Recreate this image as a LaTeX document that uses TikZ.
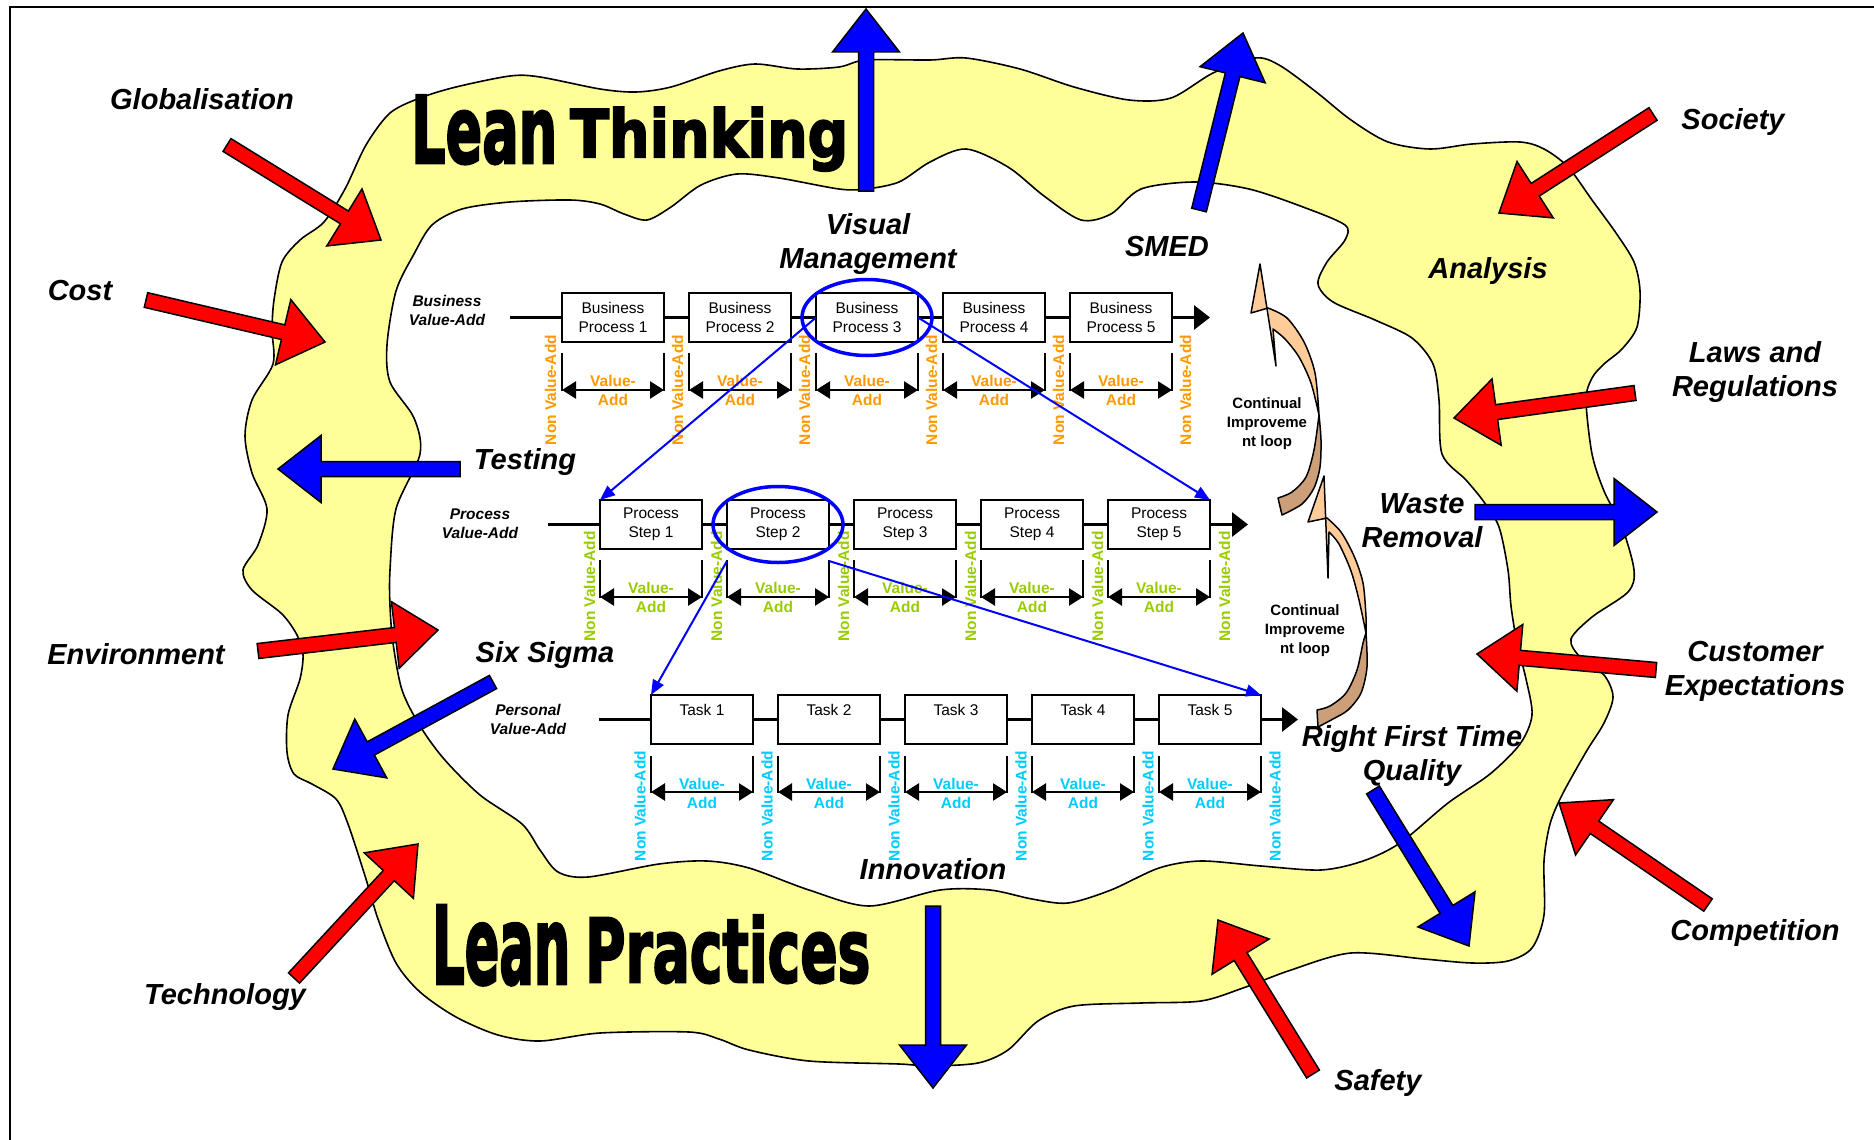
\documentclass[tikz,border=0pt]{standalone}
\usepackage{fontspec}
\usepackage{graphicx}
\setmainfont{Liberation Sans}
\newfontfamily\wordart{DejaVu Sans}[UprightFont={* Bold}, FakeBold=3]
\usetikzlibrary{calc,arrows.meta,shapes.geometric}

\definecolor{blobyellow}{HTML}{FFFF99}
\definecolor{vaorange}{HTML}{FF9900}
\definecolor{vagreen}{HTML}{99CC00}
\definecolor{vacyan}{HTML}{00CCFF}
\definecolor{cipeach}{HTML}{FFCC99}
\definecolor{citan}{HTML}{CC9F78}

% block arrow: style, tail centre, tip
\newcommand\blockarrow[3]{%
  \coordinate (ba-s) at #2;
  \coordinate (ba-e) at #3;
  \coordinate (ba-n) at ($(ba-e)!43pt!(ba-s)$);
  \draw[#1] ($(ba-s)!7.5pt!90:(ba-e)$) -- ($(ba-n)!7.5pt!-90:(ba-s)$)
    -- ($(ba-n)!33.5pt!-90:(ba-s)$) -- (ba-e) -- ($(ba-n)!33.5pt!90:(ba-s)$)
    -- ($(ba-n)!7.5pt!90:(ba-s)$) -- ($(ba-s)!7.5pt!-90:(ba-e)$) -- cycle;}

\tikzset{
  lbl/.style={font=\fontsize{29}{34}\selectfont\bfseries\itshape, align=center, inner sep=0},
  rowlbl/.style={font=\fontsize{15.5}{19}\selectfont\bfseries\itshape, align=center, inner sep=0},
  stepbox/.style={draw, line width=2pt, fill=white, minimum width=102pt, minimum height=49pt,
    inner sep=0, outer sep=0, align=center, font=\fontsize{15.5}{19}\selectfont},
  rowline/.style={line width=3pt, -{Triangle[length=16pt,width=24pt]}},
  brk/.style={line width=2pt},
  vaarrow/.style={line width=2.5pt, {Triangle[length=14pt,width=17pt]}-{Triangle[length=14pt,width=17pt]}},
  vatext/.style={font=\fontsize{15.5}{19}\selectfont\bfseries, align=center, inner sep=0},
  nvatext/.style={font=\fontsize{15.5}{18}\selectfont\bfseries, rotate=90, inner sep=0},
  conn/.style={draw=blue, line width=2pt, -{Triangle[length=15pt,width=12pt]}},
  ring/.style={ellipse, draw=blue, line width=3.5pt, inner sep=0, minimum width=130pt, minimum height=76pt},
  redarrow/.style={fill=red, draw=black, line width=1.5pt},
  bluearrow/.style={fill=blue, draw=black, line width=1.5pt},
  blob/.style={fill=blobyellow, draw=black, line width=1.6pt, even odd rule},
  cilight/.style={fill=cipeach, draw=black, line width=1.5pt, line join=round},
  cidark/.style={fill=citan, draw=black, line width=1.5pt, line join=round},
  citext/.style={font=\fontsize{15}{19}\selectfont\bfseries, align=center, inner sep=0},
  wa/.style={anchor=north west, inner sep=0},
}

\begin{document}
\begin{tikzpicture}[x=1pt,y=-1pt]
\useasboundingbox (0,0) rectangle (1874,1140);
\fill[white] (0,0) rectangle (1874,1140);

% frame
\draw[line width=1.5pt] (10,1140) -- (10,7) -- (1874,7);

% the yellow ring
\path[blob] plot[smooth cycle] coordinates {
 (420,98) (456,87) (510,76) (540,77) (600,89) (636,92) (671,87) (719,71) (755,64)
 (797,69) (839,67) (866,60) (930,60) (966,58) (1020,69) (1074,87) (1129,100)
 (1171,98) (1213,73) (1255,58) (1279,65) (1315,91) (1351,120) (1388,142) (1430,149)
 (1472,144) (1520,142) (1544,149) (1568,167) (1592,200) (1616,233) (1634,262)
 (1640,291) (1637,327) (1622,349) (1604,364) (1592,378) (1586,400) (1592,454)
 (1604,491) (1622,527) (1634,570) (1628,592) (1592,617) (1571,639) (1580,657)
 (1604,675) (1613,697) (1604,723) (1586,752) (1562,795) (1550,824) (1544,861)
 (1544,915) (1532,948) (1508,961) (1472,963) (1424,959) (1351,953) (1291,970)
 (1243,988) (1201,1001) (1141,1003) (1074,1006) (1038,1021) (1008,1050) (978,1063)
 (930,1066) (899,1064) (809,1061) (749,1050) (719,1039) (689,1032) (600,1033)
 (540,1041) (498,1035) (456,1017) (420,992) (396,963) (378,919) (366,879) (348,824)
 (336,799) (312,784) (294,774) (287,752) (288,715) (300,679) (303,654) (297,635)
 (282,614) (252,590) (243,570) (258,545) (267,509) (252,473) (245,436) (252,400)
 (273,364) (272,330) (274,300) (282,262) (300,240) (324,222) (345,189) (366,145)
 (390,113)}
 plot[smooth cycle] coordinates {
 (462,209) (510,202) (570,200) (600,204) (624,214) (647,220) (671,207) (701,185)
 (737,174) (779,178) (839,189) (866,189) (899,182) (930,162) (966,149) (1008,167)
 (1044,196) (1081,220) (1111,214) (1141,189) (1195,182) (1249,189) (1303,207)
 (1345,225) (1345,240) (1327,262) (1318,284) (1333,302) (1375,320) (1412,338)
 (1433,364) (1439,400) (1442,454) (1466,480) (1484,502) (1499,527) (1508,570)
 (1511,606) (1517,643) (1526,679) (1532,715) (1520,744) (1490,774) (1448,803)
 (1400,843) (1363,861) (1321,870) (1261,866) (1201,861) (1159,868) (1111,890)
 (1068,903) (1032,899) (990,890) (940,890) (869,906) (809,890) (749,868) (707,861)
 (659,864) (588,877) (558,872) (540,850) (522,824) (480,795) (444,759) (420,726)
 (402,690) (393,643) (390,606) (390,570) (396,509) (420,454) (414,418) (390,382)
 (387,345) (396,291) (414,254) (432,225)};

% continual improvement loop arrows
\filldraw[cilight] (1260,264) -- (1251,313) -- (1268,308)
  -- plot[smooth] coordinates {(1268,308) (1287,318) (1304,342) (1315,373) (1319,415)}
  -- plot[smooth] coordinates {(1319,415) (1311,383) (1299,357) (1285,339) (1273,329)}
  -- (1276,366) -- cycle;
\filldraw[cidark] (1319,415)
  -- plot[smooth] coordinates {(1319,415) (1321,440) (1320,467) (1314,488) (1302,504) (1282,515)}
  -- (1278,498)
  -- plot[smooth] coordinates {(1278,498) (1292,492) (1306,477) (1314,450) (1319,415)} -- cycle;
\filldraw[cilight] (1324,476) -- (1308,522) -- (1327,518)
  -- plot[smooth] coordinates {(1327,518) (1341,532) (1354,556) (1363,583) (1366,617) (1366,633)}
  -- plot[smooth] coordinates {(1366,633) (1359,600) (1351,571) (1339,544) (1329,532)}
  -- (1328,578) -- cycle;
\filldraw[cidark] (1366,633)
  -- plot[smooth] coordinates {(1366,633) (1367,667) (1361,693) (1348,710) (1333,719) (1318,727)}
  -- (1317,710)
  -- plot[smooth] coordinates {(1317,710) (1330,706) (1346,693) (1357,670) (1363,643) (1366,633)} -- cycle;
\node[citext] (ci1) at (1267,424) {Continual\\Improveme\\nt loop};
\node[citext] (ci2) at (1305,631) {Continual\\Improveme\\nt loop};

% ---- business row ----
\coordinate (bstart) at (510,317.5);
\coordinate (bend) at (1210,317.5);
\draw[rowline] (bstart) -- (bend);
\node[rowlbl] (blabel) at (447,310.5) {Business\\Value-Add};
\foreach \i in {1,...,5}{
  \node[stepbox] (B\i) at ({613+127*(\i-1)},317.5) {Business\\Process \i};
  \draw[brk] ($(B\i.south west)+(0,11)$) -- ($(B\i.south west)+(0,49)$);
  \draw[brk] ($(B\i.south east)+(0,11)$) -- ($(B\i.south east)+(0,49)$);
  \draw[vaarrow] ($(B\i.south west)+(0,48)$) -- ($(B\i.south east)+(0,48)$);
  \node[vatext, text=vaorange] (BV\i) at ($(B\i.south)+(0,48.5)$) {Value-\\Add};
}
\foreach \k in {0,...,5}
  \node[nvatext, text=vaorange] (BN\k) at ({550.5+127*\k},390) {Non Value-Add};

% ---- process row ----
\coordinate (pstart) at (548,524.5);
\coordinate (pend) at (1248,524.5);
\draw[rowline] (pstart) -- (pend);
\node[rowlbl] (plabel) at (480,523.5) {Process\\Value-Add};
\foreach \i in {1,...,5}{
  \node[stepbox] (P\i) at ({651+127*(\i-1)},524.5) {Process\\Step \i};
  \draw[brk] ($(P\i.south west)+(0,11)$) -- ($(P\i.south west)+(0,49)$);
  \draw[brk] ($(P\i.south east)+(0,11)$) -- ($(P\i.south east)+(0,49)$);
  \draw[vaarrow] ($(P\i.south west)+(0,48)$) -- ($(P\i.south east)+(0,48)$);
  \node[vatext, text=vagreen] (PV\i) at ($(P\i.south)+(0,48.5)$) {Value-\\Add};
}
\foreach \k in {0,...,5}
  \node[nvatext, text=vagreen] (PN\k) at ({589.5+127*\k},586.5) {Non Value-Add};

% ---- task row ----
\coordinate (tstart) at (599,719.5);
\coordinate (tend) at (1298,719.5);
\draw[rowline] (tstart) -- (tend);
\node[rowlbl] (tlabel) at (528,719) {Personal\\Value-Add};
\foreach \i in {1,...,5}{
  \node[stepbox] (T\i) at ({702+127*(\i-1)},719.5) {Task \i\\\mbox{}};
  \draw[brk] ($(T\i.south west)+(0,12)$) -- ($(T\i.south west)+(0,49)$);
  \draw[brk] ($(T\i.south east)+(0,12)$) -- ($(T\i.south east)+(0,49)$);
  \draw[vaarrow] ($(T\i.south west)+(0,48)$) -- ($(T\i.south east)+(0,48)$);
  \node[vatext, text=vacyan] (TV\i) at ($(T\i.south)+(0,49)$) {Value-\\Add};
}
\foreach \k in {0,...,5}
  \node[nvatext, text=vacyan] (TN\k) at ({640+127*\k},806) {Non Value-Add};

% drill-down links
\coordinate (P2bl) at ($(P2.south west)+(0,12)$);
\coordinate (P2br) at ($(P2.south east)+(0,12)$);
\draw[conn] (B3.west) -- (P1.north west);
\draw[conn] (B3.east) -- (P5.north east);
\draw[conn] (P2bl) -- (T1.north west);
\draw[conn] (P2br) -- (T5.north east);
\node[ring] (E1) at (B3.center) {};
\node[ring] (E2) at (P2.center) {};

% ---- labels ----
\node[lbl] (globalisation) at (202,99) {Globalisation};
\node[lbl] (cost) at (80,291) {Cost};
\node[lbl] (testing) at (525,462) {Testing};
\node[lbl] (environment) at (136,654) {Environment};
\node[lbl] (sixsigma) at (545,655) {Six Sigma};
\node[lbl] (technology) at (225,997) {Technology};
\node[lbl] (visual) at (868,244) {Visual\\Management};
\node[lbl] (smed) at (1167,247) {SMED};
\node[lbl] (society) at (1733,122) {Society};
\node[lbl] (analysis) at (1488,271) {Analysis};
\node[lbl] (laws) at (1755,372) {Laws and\\Regulations};
\node[lbl] (waste) at (1422,521) {Waste\\Removal};
\node[lbl] (customer) at (1755,671) {Customer\\Expectations};
\node[lbl] (rft) at (1412,756) {Right First Time\\Quality};
\node[lbl] (innovation) at (933,869) {Innovation};
\node[lbl] (competition) at (1755,933) {Competition};
\node[lbl] (safety) at (1378,1083) {Safety};

% ---- ring titles ----
\node[wa] (leanA) at (411,95) {\resizebox*{146pt}{69pt}{\wordart Lean}};
\node[wa] (thinking) at (570,107) {\resizebox*{278pt}{64pt}{\wordart Thinking}};
\node[wa] (leanB) at (432,905) {\resizebox*{138pt}{80pt}{\wordart Lean}};
\node[wa] (practices) at (585,915) {\resizebox*{285pt}{68pt}{\wordart Practices}};

% ---- pressures from outside (red) ----
\blockarrow{redarrow}{(227,145)}{(381,240)}
\blockarrow{redarrow}{(146,300)}{(325,342)}
\blockarrow{redarrow}{(258,651)}{(438,630)}
\blockarrow{redarrow}{(294,978)}{(418,844)}
\blockarrow{redarrow}{(1653,114)}{(1499,213)}
\blockarrow{redarrow}{(1635,393)}{(1454,418)}
\blockarrow{redarrow}{(1656,670)}{(1477,654)}
\blockarrow{redarrow}{(1708,905)}{(1559,803)}
\blockarrow{redarrow}{(1313,1074)}{(1218,920)}

% ---- lean tools pushing out (blue) ----
\blockarrow{bluearrow}{(866,191)}{(866,9)}
\blockarrow{bluearrow}{(1199,210)}{(1243,33)}
\blockarrow{bluearrow}{(460,469)}{(278,469)}
\blockarrow{bluearrow}{(493,682)}{(333,769)}
\blockarrow{bluearrow}{(933,906)}{(933,1088)}
\blockarrow{bluearrow}{(1475,512)}{(1657,512)}
\blockarrow{bluearrow}{(1373,790)}{(1469,946)}
\end{tikzpicture}
\end{document}
